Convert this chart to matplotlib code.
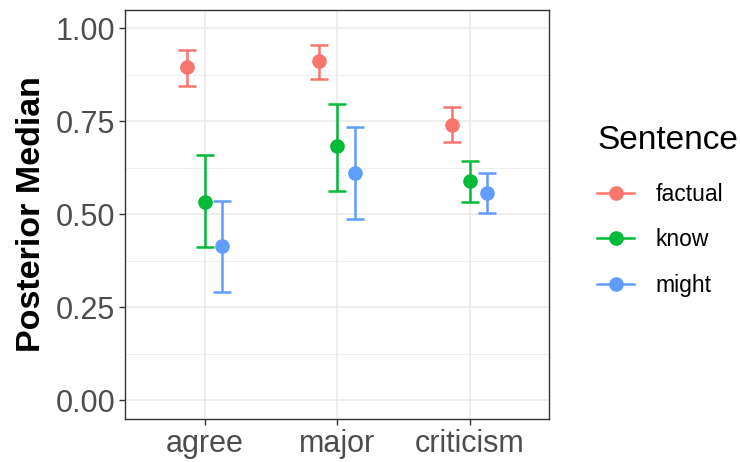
import numpy as np
import matplotlib
matplotlib.use("Agg")
import matplotlib.pyplot as plt
from matplotlib.lines import Line2D

plt.rcParams["font.family"] = ["Liberation Sans", "DejaVu Sans"]

words = ["agree", "major", "criticism"]
sentences = ["factual", "know", "might"]
colors = ["#F8766D", "#00BA38", "#619CFF"]

# posterior median and interval per sentence type (rows) x word (columns)
median = {
    "factual": [0.895, 0.911, 0.739],
    "know":    [0.534, 0.683, 0.588],
    "might":   [0.414, 0.612, 0.556],
}
lower = {
    "factual": [0.845, 0.863, 0.695],
    "know":    [0.411, 0.563, 0.534],
    "might":   [0.292, 0.488, 0.504],
}
upper = {
    "factual": [0.941, 0.955, 0.787],
    "know":    [0.660, 0.796, 0.644],
    "might":   [0.536, 0.735, 0.611],
}

DODGE = 0.4   # position_dodge width

fig = plt.figure(figsize=(7.4, 4.62), dpi=100)
ax = fig.add_axes([125 / 740, 1 - 419 / 462, 424 / 740, 409.5 / 462])

x = np.arange(1, len(words) + 1)
n = len(sentences)
for i, (s, c) in enumerate(zip(sentences, colors)):
    off = (i - (n - 1) / 2) * DODGE / n
    m = np.array(median[s])
    lo = m - np.array(lower[s])
    hi = np.array(upper[s]) - m
    ax.errorbar(x + off, m, yerr=[lo, hi], fmt="o", color=c, ms=9.5,
                elinewidth=1.8, capsize=6.4, capthick=1.8, zorder=3)

ax.set_xlim(0.4, 3.6)
ax.set_ylim(-0.05, 1.05)
ax.set_xticks(x)
ax.set_xticklabels(words)
ax.set_yticks([0, 0.25, 0.5, 0.75, 1.0])
ax.set_yticklabels(["0.00", "0.25", "0.50", "0.75", "1.00"])
ax.set_yticks([0.125, 0.375, 0.625, 0.875], minor=True)
ax.grid(True, which="major", color="#EBEBEB", lw=1.2, zorder=0)
ax.grid(True, which="minor", axis="y", color="#EBEBEB", lw=0.6, zorder=0)
ax.set_axisbelow(True)
ax.tick_params(which="major", length=4, width=1.0, color="#333333",
               labelcolor="#4D4D4D", labelsize=22, pad=3)
ax.tick_params(which="minor", length=0)
for sp in ax.spines.values():
    sp.set_color("#333333")
    sp.set_linewidth(1.0)

ax.set_ylabel("Posterior Median", fontsize=24.5, fontweight="bold", labelpad=6)

handles = [Line2D([], [], color=c, marker="o", ms=9.5, lw=1.8) for c in colors]
leg = fig.legend(handles, sentences, title="Sentence", loc="upper left",
                 bbox_to_anchor=(588 / 740, 1 - 116 / 462), frameon=False,
                 fontsize=16.5, title_fontsize=24, handlelength=1.6,
                 handletextpad=0.95, labelspacing=1.0, borderaxespad=0)
leg._legend_box.align = "left"
leg._legend_box.sep = 19

fig.savefig("out.png", dpi=100)
